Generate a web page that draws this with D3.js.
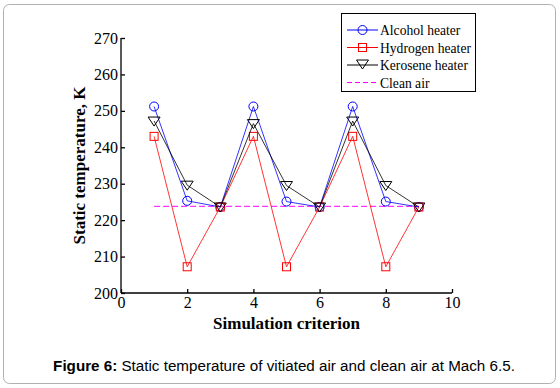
<!DOCTYPE html>
<html>
<head>
<meta charset="utf-8">
<script src="https://cdn.jsdelivr.net/npm/d3@7"></script>
<style>
  body { margin: 0; background: #fff; }
  svg { display: block; }
</style>
</head>
<body>
<div id="chart"></div>
<script>
const criteria = [1, 2, 3, 4, 5, 6, 7, 8, 9];
const alcohol = [251.2, 225.3, 223.6, 251.2, 225.1, 223.6, 251.2, 225.1, 223.6];
const hydrogen = [243.0, 207.2, 223.6, 243.0, 207.2, 223.6, 243.0, 207.2, 223.6];
const kerosene = [247.2, 229.6, 223.6, 246.5, 229.5, 223.6, 247.2, 229.5, 223.6];
const cleanAir = 223.8;
const xTicks = [0, 2, 4, 6, 8, 10];
const yTicks = [200, 210, 220, 230, 240, 250, 260, 270];

function init() {
    const w = 560, h = 388;
    const svg = d3.select("#chart").append("svg").attr("width", w).attr("height", h);

    // page frame
    svg.append("rect").attr("x", 3.5).attr("y", 4.5).attr("width", 552).attr("height", 379)
        .attr("rx", 6).attr("fill", "none").attr("stroke", "#b0b0b0");

    const left = 121, right = 452, top = 38, bottom = 293;
    const x = d3.scaleLinear().domain([0, 10]).range([left, right]);
    const y = d3.scaleLinear().domain([200, 270]).range([bottom, top]);

    const serif = "'Liberation Serif', 'Times New Roman', serif";

    const xAxis = svg.append("g").attr("transform", "translate(0," + bottom + ")")
        .call(d3.axisBottom(x).tickValues(xTicks).tickSize(-4).tickPadding(4));
    const yAxis = svg.append("g").attr("transform", "translate(" + left + ",0)")
        .call(d3.axisLeft(y).tickValues(yTicks).tickSize(-4).tickPadding(3));
    [xAxis, yAxis].forEach(function (g) {
        g.selectAll("path,line").attr("stroke", "#000").attr("stroke-width", 1.3);
        g.selectAll("text").attr("font-family", serif).attr("font-size", 16).attr("fill", "#000");
    });
    xAxis.select(".domain").attr("d", "M" + left + ",0H" + right);
    yAxis.select(".domain").attr("d", "M0," + bottom + "V" + top);

    svg.append("text").attr("x", (left + right) / 2).attr("y", 329)
        .attr("text-anchor", "middle").attr("font-family", serif)
        .attr("font-weight", "bold").attr("font-size", 17).text("Simulation criterion");
    svg.append("text").attr("transform", "translate(85," + ((top + bottom) / 2) + ") rotate(-90)")
        .attr("text-anchor", "middle").attr("font-family", serif)
        .attr("font-weight", "bold").attr("font-size", 17).text("Static temperature, K");

    const line = d3.line().x(function (d, i) { return x(criteria[i]); }).y(function (d) { return y(d); });

    // clean air
    svg.append("line").attr("x1", x(1)).attr("x2", x(9)).attr("y1", y(cleanAir)).attr("y2", y(cleanAir))
        .attr("stroke", "#ff00ff").attr("stroke-width", 1).attr("stroke-dasharray", "6,3");

    const series = [
        { name: "Alcohol heater", values: alcohol, color: "#0000ff", marker: "circle" },
        { name: "Hydrogen heater", values: hydrogen, color: "#ff0000", marker: "square" },
        { name: "Kerosene heater", values: kerosene, color: "#000000", marker: "triangle" }
    ];

    function marker(g, type, cx, cy, color) {
        if (type === "circle") {
            g.append("circle").attr("cx", cx).attr("cy", cy).attr("r", 4.5)
                .attr("fill", "none").attr("stroke", color);
        } else if (type === "square") {
            g.append("rect").attr("x", cx - 4).attr("y", cy - 4).attr("width", 8).attr("height", 8)
                .attr("fill", "none").attr("stroke", color);
        } else {
            g.append("path").attr("d", "M" + (cx - 6) + "," + (cy - 4) + "L" + (cx + 6) + "," + (cy - 4) +
                "L" + cx + "," + (cy + 5) + "Z").attr("fill", "none").attr("stroke", color);
        }
    }

    series.forEach(function (s) {
        const g = svg.append("g");
        g.append("path").attr("d", line(s.values)).attr("fill", "none")
            .attr("stroke", s.color).attr("stroke-width", 0.8);
        s.values.forEach(function (v, i) { marker(g, s.marker, x(criteria[i]), y(v), s.color); });
    });

    // legend
    const lg = svg.append("g");
    lg.append("rect").attr("x", 341.5).attr("y", 13.5).attr("width", 134).attr("height", 78)
        .attr("fill", "#fff").attr("stroke", "#000").attr("stroke-width", 1);
    const items = series.concat([{ name: "Clean air", color: "#ff00ff", marker: null }]);
    items.forEach(function (s, i) {
        const ly = 30 + i * 17.5;
        const l = lg.append("line").attr("x1", 347).attr("x2", 378).attr("y1", ly).attr("y2", ly)
            .attr("stroke", s.color).attr("stroke-width", 1);
        if (!s.marker) l.attr("stroke-dasharray", "5,3");
        else marker(lg, s.marker, 362.5, s.marker === "triangle" ? ly - 1 : ly, s.color);
        lg.append("text").attr("x", 380).attr("y", ly + 5).attr("font-family", serif)
            .attr("font-size", 13.6).text(s.name);
    });

    // caption
    const cap = svg.append("text").attr("x", 284).attr("y", 371).attr("text-anchor", "middle")
        .attr("font-family", "'Liberation Sans', Arial, sans-serif").attr("font-size", 15.2);
    cap.append("tspan").attr("font-weight", "bold").text("Figure 6:");
    cap.append("tspan").text(" Static temperature of vitiated air and clean air at Mach 6.5.");
}
window.onload = init;
</script>
</body>
</html>
